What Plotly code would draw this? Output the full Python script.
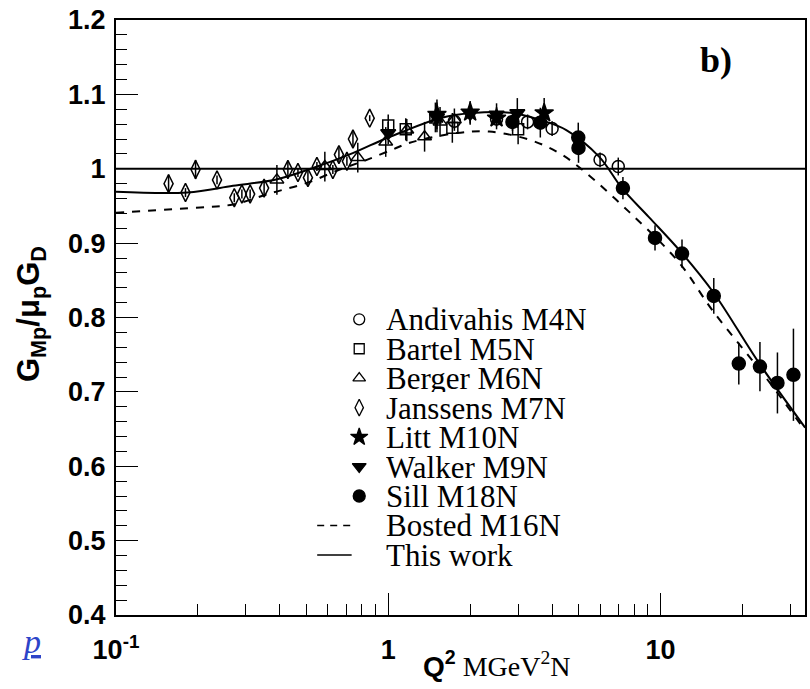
import plotly.graph_objects as go

# ---- measured ratios G_Mp / (mu_p G_D) versus Q^2 [GeV^2] ----
andivahis_q2 = [1.75, 2.5, 3.25, 4.0, 6.0, 7.0]
andivahis_g = [1.064, 1.067, 1.063, 1.054, 1.012, 1.003]
andivahis_err = [0.010, 0.010, 0.010, 0.010, 0.010, 0.012]

bartel_q2 = [1.0, 1.16, 1.49, 1.72, 3.0]
bartel_g = [1.058, 1.053, 1.069, 1.055, 1.053]
bartel_err = [0.015, 0.015, 0.020, 0.020, 0.020]

berger_q2 = [0.39, 0.585, 0.773, 0.979, 1.17, 1.36, 1.55, 1.75]
berger_g = [0.985, 1.003, 1.015, 1.036, 1.052, 1.043, 1.063, 1.066]
berger_err = [0.020, 0.020, 0.020, 0.020, 0.015, 0.020, 0.020, 0.015]

janssens_q2 = [0.156, 0.180, 0.196, 0.235, 0.272, 0.290, 0.311, 0.350, 0.428,
               0.466, 0.507, 0.547, 0.626, 0.659, 0.705, 0.742, 0.855]
janssens_g = [0.980, 0.968, 0.999, 0.985, 0.961, 0.966, 0.966, 0.974, 0.999,
              0.995, 0.988, 1.003, 0.999, 1.019, 1.010, 1.040, 1.068]
janssens_err = [0.012, 0.006, 0.013, 0.006, 0.006, 0.006, 0.006, 0.010, 0.010,
                0.006, 0.010, 0.006, 0.006, 0.010, 0.006, 0.010, 0.004]

litt_q2 = [1.51, 2.0, 2.5, 3.74]
litt_g = [1.073, 1.076, 1.068, 1.075]
litt_err = [0.020, 0.015, 0.015, 0.020]

walker_q2 = [1.0, 1.51, 2.0, 2.5, 2.98]
walker_g = [1.048, 1.069, 1.074, 1.073, 1.075]
walker_err = [0.015, 0.020, 0.015, 0.015, 0.020]

sill_q2 = [2.86, 3.62, 4.99, 5.0, 7.28, 9.55, 12.0, 15.7, 19.4, 23.2, 26.9, 30.8]
sill_g = [1.063, 1.062, 1.042, 1.028, 0.974, 0.907, 0.886, 0.829, 0.738, 0.734, 0.712, 0.723]
sill_err = [0.012, 0.020, 0.020, 0.020, 0.015, 0.017, 0.019, 0.024, 0.028, 0.033, 0.041, 0.062]

# ---- fit curves ----
bosted_q2 = [0.1, 0.204, 0.269, 0.377, 0.503, 0.664, 0.834, 1.04, 1.20, 1.78, 2.35,
             3.30, 4.25, 5.15, 7.67, 11.7, 15.5, 24.3, 34.0]
bosted_g = [0.941, 0.948, 0.952, 0.968, 0.981, 0.999, 1.012, 1.026, 1.035, 1.048, 1.050,
            1.039, 1.021, 0.999, 0.942, 0.874, 0.810, 0.720, 0.648]

this_q2 = [0.1, 0.183, 0.269, 0.391, 0.529, 0.741, 0.955, 1.10, 1.545, 2.04, 2.86,
           3.59, 4.51, 5.96, 7.22, 9.07, 11.9, 15.7, 23.0, 34.0]
this_g = [0.969, 0.968, 0.977, 0.986, 1.001, 1.021, 1.039, 1.048, 1.068, 1.075, 1.075,
          1.066, 1.052, 1.016, 0.974, 0.935, 0.888, 0.833, 0.739, 0.652]

legend_labels = ["Andivahis M4N", "Bartel M5N", "Berger M6N", "Janssens M7N",
                 "Litt M10N", "Walker M9N", "Sill M18N", "Bosted M16N", "This work"]

x_ticks = [0.1, 1, 10]
x_ticktext = ["10<sup>-1</sup>", "1", "10"]
x_minor = [0.2, 0.3, 0.4, 0.5, 0.6, 0.7, 0.8, 0.9, 2, 3, 4, 5, 6, 7, 8, 9, 20, 30]

SANS = "Liberation Sans, Arial, sans-serif"
SERIF = "Liberation Serif, Times New Roman, serif"

point_sets = [
    (andivahis_q2, andivahis_g, andivahis_err, "circle-open", 12),
    (bartel_q2, bartel_g, bartel_err, "square-open", 11),
    (berger_q2, berger_g, berger_err, "triangle-up-open", 12),
    (janssens_q2, janssens_g, janssens_err, "diamond-tall-open", 13),
    (litt_q2, litt_g, litt_err, "star", 14),
    (walker_q2, walker_g, walker_err, "triangle-down", 13),
    (sill_q2, sill_g, sill_err, "circle", 13),
]

fig = go.Figure()

# unity reference line
fig.add_shape(type="line", xref="paper", x0=0, x1=1, yref="y", y0=1, y1=1,
              line=dict(color="black", width=2))

fig.add_trace(go.Scatter(x=bosted_q2, y=bosted_g, mode="lines", line_shape="spline",
                         line=dict(color="black", width=2, dash="8px,8px"),
                         showlegend=False, hoverinfo="skip"))
fig.add_trace(go.Scatter(x=this_q2, y=this_g, mode="lines", line_shape="spline",
                         line=dict(color="black", width=2),
                         showlegend=False, hoverinfo="skip"))

for q2, g, err, sym, size in point_sets:
    fig.add_trace(go.Scatter(
        x=q2, y=g, mode="markers",
        marker=dict(symbol=sym, size=size, color="black", line=dict(color="black", width=1.5)),
        error_y=dict(type="data", array=err, width=0, thickness=1.5, color="black"),
        showlegend=False))

# ---- hand-built key drawn on an overlay axis spanning the plot area ----
row0, row_step = 0.497, 0.0495
key_x_sym, key_x0, key_x1, key_x_text = 0.353, 0.292, 0.342, 0.389
for i, (_, _, _, sym, size) in enumerate(point_sets):
    fig.add_trace(go.Scatter(
        x=[key_x_sym], y=[row0 - i * row_step], xaxis="x2", yaxis="y2", mode="markers",
        marker=dict(symbol=sym, size=size - 1, color="black", line=dict(color="black", width=1.3)),
        showlegend=False, hoverinfo="skip"))
fig.add_trace(go.Scatter(x=[key_x0, key_x1], y=[row0 - 7 * row_step] * 2, xaxis="x2", yaxis="y2",
                         mode="lines", line=dict(color="black", width=1.5, dash="7px,6px"),
                         showlegend=False, hoverinfo="skip"))
fig.add_trace(go.Scatter(x=[key_x0, key_x1], y=[row0 - 8 * row_step] * 2, xaxis="x2", yaxis="y2",
                         mode="lines", line=dict(color="black", width=1.5),
                         showlegend=False, hoverinfo="skip"))

annotations = []
for i, lab in enumerate(legend_labels):
    annotations.append(dict(xref="paper", yref="paper", x=key_x_text, y=row0 - i * row_step,
                            text=lab, showarrow=False, xanchor="left", yanchor="middle",
                            height=28, valign="middle",
                            font=dict(family=SERIF, size=31, color="black")))
annotations.append(dict(xref="paper", yref="paper", x=0.871, y=0.933, text="<b>b)</b>",
                        showarrow=False, xanchor="center", yanchor="middle",
                        font=dict(family=SERIF, size=36, color="black")))
annotations.append(dict(xref="paper", yref="paper", x=-0.122, y=-0.045, text="<u><i>p</i></u>",
                        showarrow=False, xanchor="center", yanchor="middle",
                        font=dict(family=SERIF, size=34, color="#2d44c8")))
annotations.append(dict(xref="paper", yref="paper", x=0.552, y=-0.083,
                        text="<b>Q</b><sup><b>2</b></sup><span style='font-family:Liberation Serif'> MGeV<sup>2</sup>N</span>",
                        showarrow=False, xanchor="center", yanchor="middle",
                        font=dict(family=SANS, size=28, color="black")))
annotations.append(dict(xref="paper", yref="paper", x=-0.124, y=0.505,
                        text="<b>G<sub>Mp</sub>/μ<sub>p</sub>G<sub>D</sub></b>",
                        showarrow=False, textangle=-90, xanchor="center", yanchor="middle",
                        font=dict(family=SANS, size=31, color="black")))

fig.update_layout(
    width=810, height=689,
    margin=dict(l=116, r=3, t=20, b=74),
    plot_bgcolor="white", paper_bgcolor="white",
    showlegend=False,
    annotations=annotations,
    xaxis=dict(type="log", range=[-1, 1.531], tickvals=x_ticks, ticktext=x_ticktext,
               ticks="inside", ticklen=22, tickwidth=1.3, tickcolor="black",
               minor=dict(tickvals=x_minor, ticks="inside", ticklen=11, tickwidth=1.3,
                          tickcolor="black", showgrid=False),
               showline=True, linecolor="black", linewidth=2, mirror=True,
               showgrid=False, zeroline=False, ticklabelstandoff=10,
               tickfont=dict(family=SANS, size=27, color="black", weight="bold")),
    yaxis=dict(range=[0.4, 1.2], dtick=0.1, tick0=0.4, tickformat=".1~f",
               ticks="inside", ticklen=22, tickwidth=1.3, tickcolor="black",
               minor=dict(dtick=0.02, ticks="inside", ticklen=11, tickwidth=1.3,
                          tickcolor="black", showgrid=False),
               showline=True, linecolor="black", linewidth=2, mirror=True,
               showgrid=False, zeroline=False, ticklabelstandoff=3,
               tickfont=dict(family=SANS, size=27, color="black", weight="bold")),
    xaxis2=dict(overlaying="x", range=[0, 1], visible=False, fixedrange=True),
    yaxis2=dict(overlaying="y", range=[0, 1], visible=False, fixedrange=True),
)

fig.write_html("out.html")
